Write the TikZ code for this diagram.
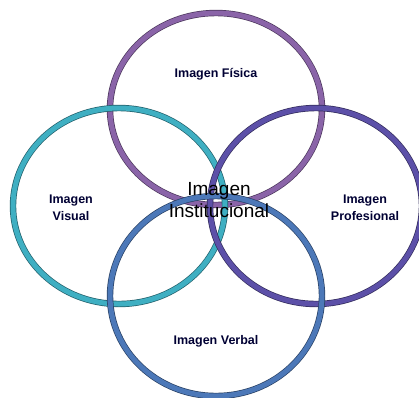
\documentclass[tikz,border=0pt]{standalone}
\usepackage{fontspec}
\setmainfont{Liberation Sans}
\usetikzlibrary{shapes.geometric}
\begin{document}
\begin{tikzpicture}[x=1pt,y=-1pt,
  ring/.style={ellipse,draw=#1!55!black,double=#1,double distance=5pt,line width=0.7pt,minimum width=212pt,minimum height=196pt,inner sep=0pt},
  small/.style={font=\bfseries\fontsize{12.5}{17}\selectfont,text=black!80!blue,align=center},
  big/.style={font=\fontsize{19}{22}\selectfont,align=center}]
\useasboundingbox (0,0) rectangle (419,397);
\definecolor{ctop}{HTML}{8A64A8}
\definecolor{cleft}{HTML}{3FAFC2}
\definecolor{cright}{HTML}{5C50A8}
\definecolor{cbot}{HTML}{4C78B8}
\node[ring=ctop,minimum height=192pt] (top) at (216,109) {};
\node[ring=cleft] (left) at (119,206) {};
\node[ring=cright] (right) at (316,206) {};
\node[ring=cbot,minimum height=200pt] (bottom) at (216,296) {};
\node[small] (ttop) at (216,74) {Imagen Física};
\node[small] (tleft) at (71,208) {Imagen\\Visual};
\node[small] (tright) at (365,208) {Imagen\\Profesional};
\node[small] (tbot) at (216,341) {Imagen Verbal};
\node[big] (center) at (219,200) {Imagen\\Institucional};
\end{tikzpicture}
\end{document}
